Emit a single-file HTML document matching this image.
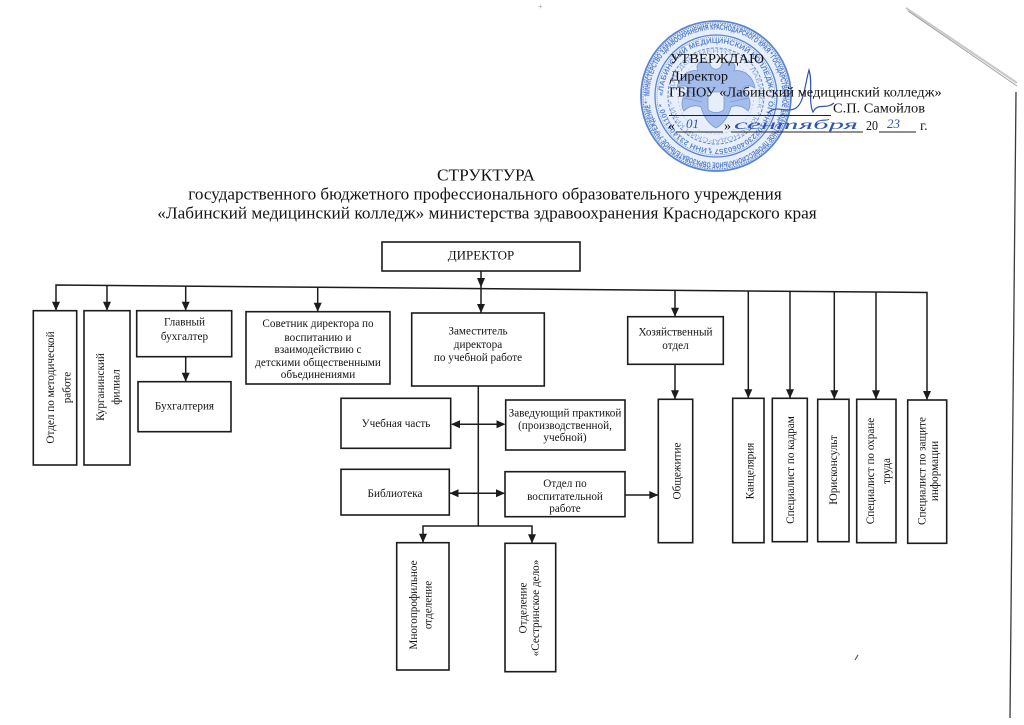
<!DOCTYPE html>
<html>
<head>
<meta charset="utf-8">
<style>
html,body{margin:0;padding:0;background:#fff;}
body{width:1024px;height:725px;overflow:hidden;}
svg{display:block;}
.t{font-family:"Liberation Serif","DejaVu Serif",serif;fill:#141414;}
.b{fill:none;stroke:#1c1c1c;stroke-width:1.6;}
.l{fill:none;stroke:#1c1c1c;stroke-width:1.5;}
.a{fill:#1c1c1c;stroke:none;}
.s{font-size:11.2px;text-anchor:middle;}
</style>
</head>
<body>
<svg width="1024" height="725" viewBox="0 0 1024 725" xmlns="http://www.w3.org/2000/svg">
<rect width="1024" height="725" fill="#fff"/>

<!-- scan artifacts -->
<line x1="906" y1="8" x2="1017" y2="83" stroke="#c9c9c9" stroke-width="2.2"/>
<line x1="908" y1="11" x2="1017" y2="86" stroke="#9a9a9a" stroke-width="0.8"/>
<line x1="1016" y1="92" x2="1010" y2="718" stroke="#3a3a3a" stroke-width="1.3"/>
<text x="538" y="9" style="font-size:8px;fill:#aaa;font-family:'Liberation Sans',sans-serif;">+</text>
<path d="M855,660 l3,-5" stroke="#555" stroke-width="1.2"/>

<!-- STAMP -->
<defs>
<path id="ring1" d="M -66.5,0 A 66.5,66.5 0 1,1 66.5,0 A 66.5,66.5 0 1,1 -66.5,0"/>
<path id="ring2" d="M -53,0 A 53,53 0 1,1 53,0 A 53,53 0 1,1 -53,0"/>
<path id="ring3" d="M -43,0 A 43,43 0 1,1 43,0 A 43,43 0 1,1 -43,0"/>
</defs>
<g transform="translate(716,96)">
<circle r="75" fill="#dfe8f8" opacity="0.7"/>
<g fill="none" stroke="#5a86d4">
<circle r="75" stroke-width="1.8"/>
<circle r="73" stroke-width="1" stroke-dasharray="1.5 1"/>
<circle r="70.5" stroke-width="0.6" stroke-dasharray="2 1.5" opacity="0.7"/>
<circle r="61" stroke-width="1.3"/>
<circle r="59" stroke-width="0.7" stroke-dasharray="1 1"/>
<circle r="48" stroke-width="1" stroke-dasharray="3 1.5"/>
<circle r="38" stroke-width="0.5" stroke-dasharray="2 2" opacity="0.6"/>
</g>
<text style="font-family:'Liberation Sans',sans-serif;font-size:8px;font-weight:bold;fill:#3f70c8;" opacity="0.9">
<textPath href="#ring1" textLength="412" lengthAdjust="spacingAndGlyphs">МИНИСТЕРСТВО ЗДРАВООХРАНЕНИЯ КРАСНОДАРСКОГО КРАЯ * ГОСУДАРСТВЕННОЕ БЮДЖЕТНОЕ ПРОФЕССИОНАЛЬНОЕ ОБРАЗОВАТЕЛЬНОЕ УЧРЕЖДЕНИЕ *</textPath>
</text>
<text style="font-family:'Liberation Sans',sans-serif;font-size:7.2px;font-weight:bold;fill:#4a7bd0;" opacity="0.9">
<textPath href="#ring2" textLength="325" lengthAdjust="spacingAndGlyphs">«ЛАБИНСКИЙ МЕДИЦИНСКИЙ КОЛЛЕДЖ» * ОГРН 1022304060357 * ИНН 2314011100 *</textPath>
</text>
<text style="font-family:'Liberation Sans',sans-serif;font-size:5.5px;fill:#5a86d4;" opacity="0.7">
<textPath href="#ring3" textLength="265" lengthAdjust="spacingAndGlyphs">* ДЛЯ ДОКУМЕНТОВ * Г. ЛАБИНСК * КРАСНОДАРСКИЙ КРАЙ *</textPath>
</text>
<!-- eagle -->
<g fill="#8dace6" stroke="#4f7fd0" stroke-width="0.8" opacity="0.75">
<path d="M-6,-32 C-14,-38 -22,-32 -18,-25 C-26,-27 -37,-21 -39,-8 C-33,-12 -28,-10 -26,-6 C-34,-2 -36,9 -32,15 C-26,9 -20,9 -15,11 C-13,19 -8,28 0,32 C8,28 13,19 15,11 C20,9 26,9 32,15 C36,9 34,-2 26,-6 C28,-10 33,-12 39,-8 C37,-21 26,-27 18,-25 C22,-32 14,-38 6,-32 C4,-25 -4,-25 -6,-32 Z"/>
<path d="M-8,-4 L8,-4 L8,12 C8,18 -8,18 -8,12 Z" fill="#e6eefb"/>
<path d="M-30,-6 L-14,2 M-32,2 L-14,6 M30,-6 L14,2 M32,2 L14,6" fill="none"/>
</g>
<text x="-8" y="58" style="font-family:'Liberation Sans',sans-serif;font-size:9px;fill:#4a79cc;">*</text>
</g>

<!-- signature -->
<path d="M768,113 C776,104 786,114 796,108 C804,103 805,84 809,70 C813,82 808,102 813,112 C818,102 826,110 834,103" fill="none" stroke="#2f53b0" stroke-width="1.2"/>

<!-- header approval text -->
<text class="t" x="670" y="63" textLength="94" lengthAdjust="spacingAndGlyphs" style="font-size:14px;">УТВЕРЖДАЮ</text>
<text class="t" x="670" y="80.5" textLength="58" lengthAdjust="spacingAndGlyphs" style="font-size:14px;">Директор</text>
<text class="t" x="669" y="96.5" textLength="272.7" lengthAdjust="spacingAndGlyphs" style="font-size:14px;">ГБПОУ «Лабинский  медицинский колледж»</text>
<line x1="669" y1="115.5" x2="831" y2="115.5" stroke="#222" stroke-width="0.9"/>
<text class="t" x="833" y="112.5" textLength="92" lengthAdjust="spacingAndGlyphs" style="font-size:14px;">С.П. Самойлов</text>
<text class="t" x="668" y="130" style="font-size:14px;">«</text>
<line x1="676" y1="132" x2="723" y2="132" stroke="#222" stroke-width="0.9"/>
<text class="t" x="724" y="130" style="font-size:14px;">»</text>
<line x1="731" y1="132" x2="863" y2="132" stroke="#222" stroke-width="0.9"/>
<text class="t" x="866" y="130" textLength="12" lengthAdjust="spacingAndGlyphs" style="font-size:14px;">20</text>
<line x1="879" y1="132" x2="916" y2="132" stroke="#222" stroke-width="0.9"/>
<text class="t" x="920" y="130" style="font-size:14px;">г.</text>
<text x="686" y="128" style="font-family:'Liberation Serif',serif;font-style:italic;font-size:13px;fill:#2f53b0;">01</text>
<text x="734" y="129" textLength="124" lengthAdjust="spacingAndGlyphs" style="font-family:'Liberation Serif',serif;font-style:italic;font-size:14px;fill:#2f53b0;">сентября</text>
<text x="887" y="128" style="font-family:'Liberation Serif',serif;font-style:italic;font-size:13px;fill:#2f53b0;">23</text>

<!-- title -->
<text class="t" x="437" y="180.5" textLength="98" lengthAdjust="spacingAndGlyphs" style="font-size:16.5px;">СТРУКТУРА</text>
<text class="t" x="188.3" y="199.3" textLength="593.4" lengthAdjust="spacingAndGlyphs" style="font-size:16.5px;">государственного бюджетного профессионального образовательного учреждения</text>
<text class="t" x="157.3" y="218.3" textLength="659.4" lengthAdjust="spacingAndGlyphs" style="font-size:16.5px;">«Лабинский медицинский колледж» министерства здравоохранения Краснодарского края</text>

<!-- DIRECTOR -->
<rect class="b" x="382" y="242" width="198" height="29"/>
<text class="t" x="481" y="259.5" text-anchor="middle" style="font-size:13px;">ДИРЕКТОР</text>

<!-- bus -->
<polyline class="l" points="56,310.7 56,285 927,292.5 927,400"/>
<!-- director to bus -->
<line class="l" x1="481" y1="271" x2="481" y2="313"/>
<polygon class="a" points="477,278 485,278 481,287.5"/>

<!-- drops -->
<line class="l" x1="107" y1="285.4" x2="107" y2="310.7"/>
<line class="l" x1="185.7" y1="286.1" x2="185.7" y2="310.7"/>
<line class="l" x1="317.7" y1="287.3" x2="317.7" y2="311.7"/>
<line class="l" x1="675" y1="290.3" x2="675" y2="316.7"/>
<line class="l" x1="748.3" y1="291" x2="748.3" y2="398.3"/>
<line class="l" x1="790" y1="291.3" x2="790" y2="398.3"/>
<line class="l" x1="834.3" y1="291.7" x2="834.3" y2="399.3"/>
<line class="l" x1="876" y1="292.1" x2="876" y2="399.3"/>

<polygon class="a" points="52,301.7 60,301.7 56,310.7"/>
<polygon class="a" points="103,301.7 111,301.7 107,310.7"/>
<polygon class="a" points="181.7,301.7 189.7,301.7 185.7,310.7"/>
<polygon class="a" points="313.7,302.7 321.7,302.7 317.7,311.7"/>
<polygon class="a" points="477,304 485,304 481,313"/>
<polygon class="a" points="671,307.7 679,307.7 675,316.7"/>
<polygon class="a" points="744.3,389.3 752.3,389.3 748.3,398.3"/>
<polygon class="a" points="786,389.3 794,389.3 790,398.3"/>
<polygon class="a" points="830.3,390.3 838.3,390.3 834.3,399.3"/>
<polygon class="a" points="872,390.3 880,390.3 876,399.3"/>
<polygon class="a" points="923,391 931,391 927,400"/>

<!-- Left boxes -->
<rect class="b" x="33.3" y="310.7" width="43.4" height="154.3"/>
<g transform="translate(50,387.5) rotate(-90)"><text class="t s" x="0" y="3.8">Отдел по методической</text></g>
<g transform="translate(66.5,387.5) rotate(-90)"><text class="t s" x="0" y="3.8">работе</text></g>

<rect class="b" x="84" y="310.7" width="46" height="154.3"/>
<g transform="translate(100,387) rotate(-90)"><text class="t s" x="0" y="3.8">Курганинский</text></g>
<g transform="translate(115.7,387) rotate(-90)"><text class="t s" x="0" y="3.8">филиал</text></g>

<rect class="b" x="136.7" y="310.7" width="95" height="46"/>
<text class="t s" x="184.5" y="325.5">Главный</text>
<text class="t s" x="184.5" y="339.8">бухгалтер</text>
<line class="l" x1="185.7" y1="356.7" x2="185.7" y2="381.7"/>
<polygon class="a" points="181.7,372.7 189.7,372.7 185.7,381.7"/>
<rect class="b" x="138" y="381.7" width="93" height="50"/>
<text class="t s" x="184.5" y="409.5">Бухгалтерия</text>

<rect class="b" x="246" y="311.7" width="144" height="72.3"/>
<text class="t s" x="318" y="327.1">Советник директора по</text>
<text class="t s" x="318" y="341.1">воспитанию и</text>
<text class="t s" x="318" y="353.1">взаимодействию с</text>
<text class="t s" x="318" y="365.8">детскими общественными</text>
<text class="t s" x="318" y="378.1">объединениями</text>

<!-- Zam -->
<rect class="b" x="411.7" y="313" width="132.6" height="73"/>
<text class="t s" x="478" y="334.5">Заместитель</text>
<text class="t s" x="478" y="347.8">директора</text>
<text class="t s" x="478" y="361.1">по учебной работе</text>

<line class="l" x1="478.3" y1="386" x2="478.3" y2="526"/>
<polyline class="l" points="423,542.7 423,526 532,526 532,543.3"/>
<polygon class="a" points="419,533.7 427,533.7 423,542.7"/>
<polygon class="a" points="528,534.3 536,534.3 532,543.3"/>

<!-- Учебная / Завед -->
<rect class="b" x="341" y="398.3" width="109.7" height="50"/>
<text class="t s" x="396" y="427">Учебная часть</text>
<rect class="b" x="505.7" y="400" width="119.3" height="50"/>
<text class="t s" x="565" y="416.5">Заведующий практикой</text>
<text class="t s" x="565" y="428.8">(производственной,</text>
<text class="t s" x="565" y="441.1">учебной)</text>
<line class="l" x1="452" y1="424.3" x2="504" y2="424.3"/>
<polygon class="a" points="451,424.3 460,420.3 460,428.3"/>
<polygon class="a" points="505.5,424.3 496.5,420.3 496.5,428.3"/>

<!-- Библиотека / Отдел восп -->
<rect class="b" x="341" y="469.3" width="108.3" height="45.7"/>
<text class="t s" x="395" y="497">Библиотека</text>
<rect class="b" x="505" y="471.7" width="120" height="45"/>
<text class="t s" x="565" y="487">Отдел по</text>
<text class="t s" x="565" y="499.8">воспитательной</text>
<text class="t s" x="565" y="512">работе</text>
<line class="l" x1="450" y1="493.3" x2="504" y2="493.3"/>
<polygon class="a" points="449.5,493.3 458.5,489.3 458.5,497.3"/>
<polygon class="a" points="505,493.3 496,489.3 496,497.3"/>
<line class="l" x1="625" y1="495" x2="658" y2="495"/>
<polygon class="a" points="658.3,495 649.3,491 649.3,499"/>

<!-- Хоз -->
<rect class="b" x="627.7" y="316.7" width="95.6" height="47.6"/>
<text class="t s" x="675.5" y="335.5">Хозяйственный</text>
<text class="t s" x="675.5" y="348.8">отдел</text>
<line class="l" x1="675" y1="364.3" x2="675" y2="399.3"/>
<polygon class="a" points="671,390.3 679,390.3 675,399.3"/>

<!-- right vertical boxes -->
<rect class="b" x="658.3" y="399.3" width="34.4" height="143.4"/>
<g transform="translate(676.5,471) rotate(-90)"><text class="t s" x="0" y="3.8">Общежитие</text></g>

<rect class="b" x="732.7" y="398.3" width="31.3" height="144.4"/>
<g transform="translate(749.5,471) rotate(-90)"><text class="t s" x="0" y="3.8">Канцелярия</text></g>

<rect class="b" x="772.3" y="398.3" width="35" height="143.4"/>
<g transform="translate(790,470) rotate(-90)"><text class="t s" x="0" y="3.8">Специалист по кадрам</text></g>

<rect class="b" x="817.7" y="399.3" width="31.3" height="142.4"/>
<g transform="translate(833.3,470) rotate(-90)"><text class="t s" x="0" y="3.8">Юрисконсульт</text></g>

<rect class="b" x="856.7" y="399.3" width="39.3" height="143.4"/>
<g transform="translate(870,471) rotate(-90)"><text class="t s" x="0" y="3.8">Специалист по охране</text></g>
<g transform="translate(886,471) rotate(-90)"><text class="t s" x="0" y="3.8">труда</text></g>

<rect class="b" x="907.7" y="400" width="39" height="143.3"/>
<g transform="translate(921.5,471) rotate(-90)"><text class="t s" x="0" y="3.8">Специалист по защите</text></g>
<g transform="translate(934,471) rotate(-90)"><text class="t s" x="0" y="3.8">информации</text></g>

<!-- bottom boxes -->
<rect class="b" x="396.7" y="542.7" width="52.3" height="127.3"/>
<g transform="translate(413.3,605) rotate(-90)"><text class="t s" x="0" y="3.8">Многопрофильное</text></g>
<g transform="translate(427.7,605) rotate(-90)"><text class="t s" x="0" y="3.8">отделение</text></g>

<rect class="b" x="505" y="543.3" width="50.7" height="128.4"/>
<g transform="translate(522.7,608) rotate(-90)"><text class="t s" x="0" y="3.8">Отделение</text></g>
<g transform="translate(535,608) rotate(-90)"><text class="t s" x="0" y="3.8">«Сестринское дело»</text></g>

</svg>
</body>
</html>
